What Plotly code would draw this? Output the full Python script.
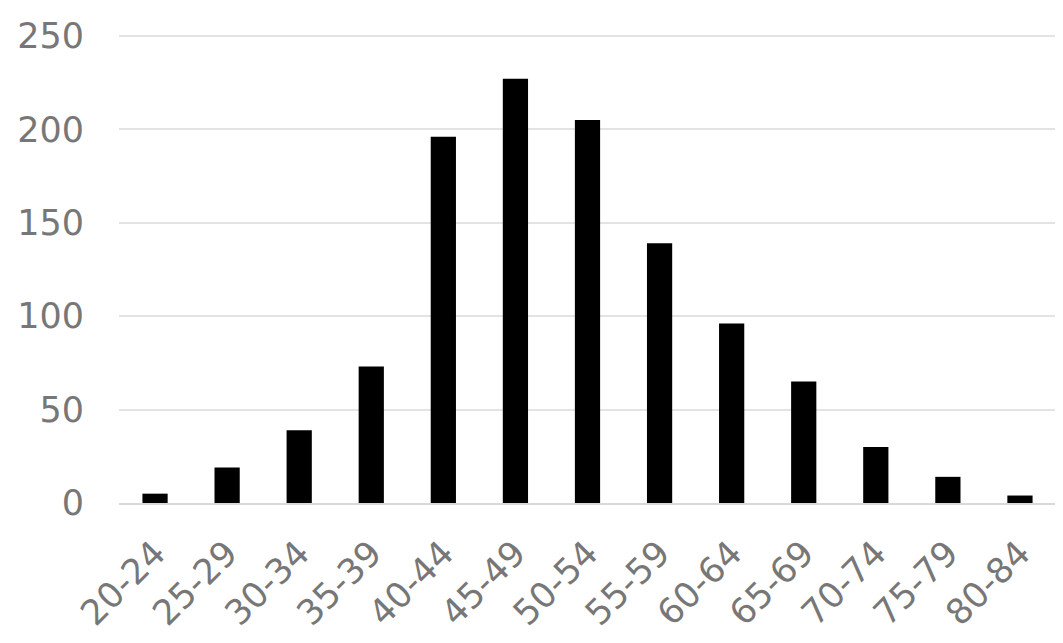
import plotly.graph_objects as go

# age groups and counts
age_groups = ["20-24", "25-29", "30-34", "35-39", "40-44", "45-49", "50-54",
              "55-59", "60-64", "65-69", "70-74", "75-79", "80-84"]
counts = [5, 19, 39, 73, 196, 227, 205, 139, 96, 65, 30, 14, 4]

y_ticks = [0, 50, 100, 150, 200, 250]

fig = go.Figure()
fig.add_trace(go.Bar(x=age_groups, y=counts, marker_color="black",
                     marker_line_width=0))

# page body adds 8px, so the figure is a bit smaller than the window
fig.update_layout(
    width=1055, height=635,
    margin=dict(l=111, r=7, t=26, b=140),
    plot_bgcolor="white", paper_bgcolor="white",
    bargap=0.65,
    showlegend=False,
    font=dict(family="DejaVu Sans", size=35, color="#777777"),
)
fig.update_xaxes(tickangle=-45, showgrid=False, showline=True,
                 linecolor="#d9d9d9", linewidth=1.5, ticks="",
                 automargin=False, ticklabelstandoff=14)
# a little headroom so the 250 gridline is not clipped
fig.update_yaxes(range=[0, 251], tickvals=y_ticks, showgrid=True,
                 gridcolor="#e3e3e3", gridwidth=1.5, zeroline=False,
                 ticks="", ticklabelstandoff=34, automargin=False)

fig.write_html("out.html")
